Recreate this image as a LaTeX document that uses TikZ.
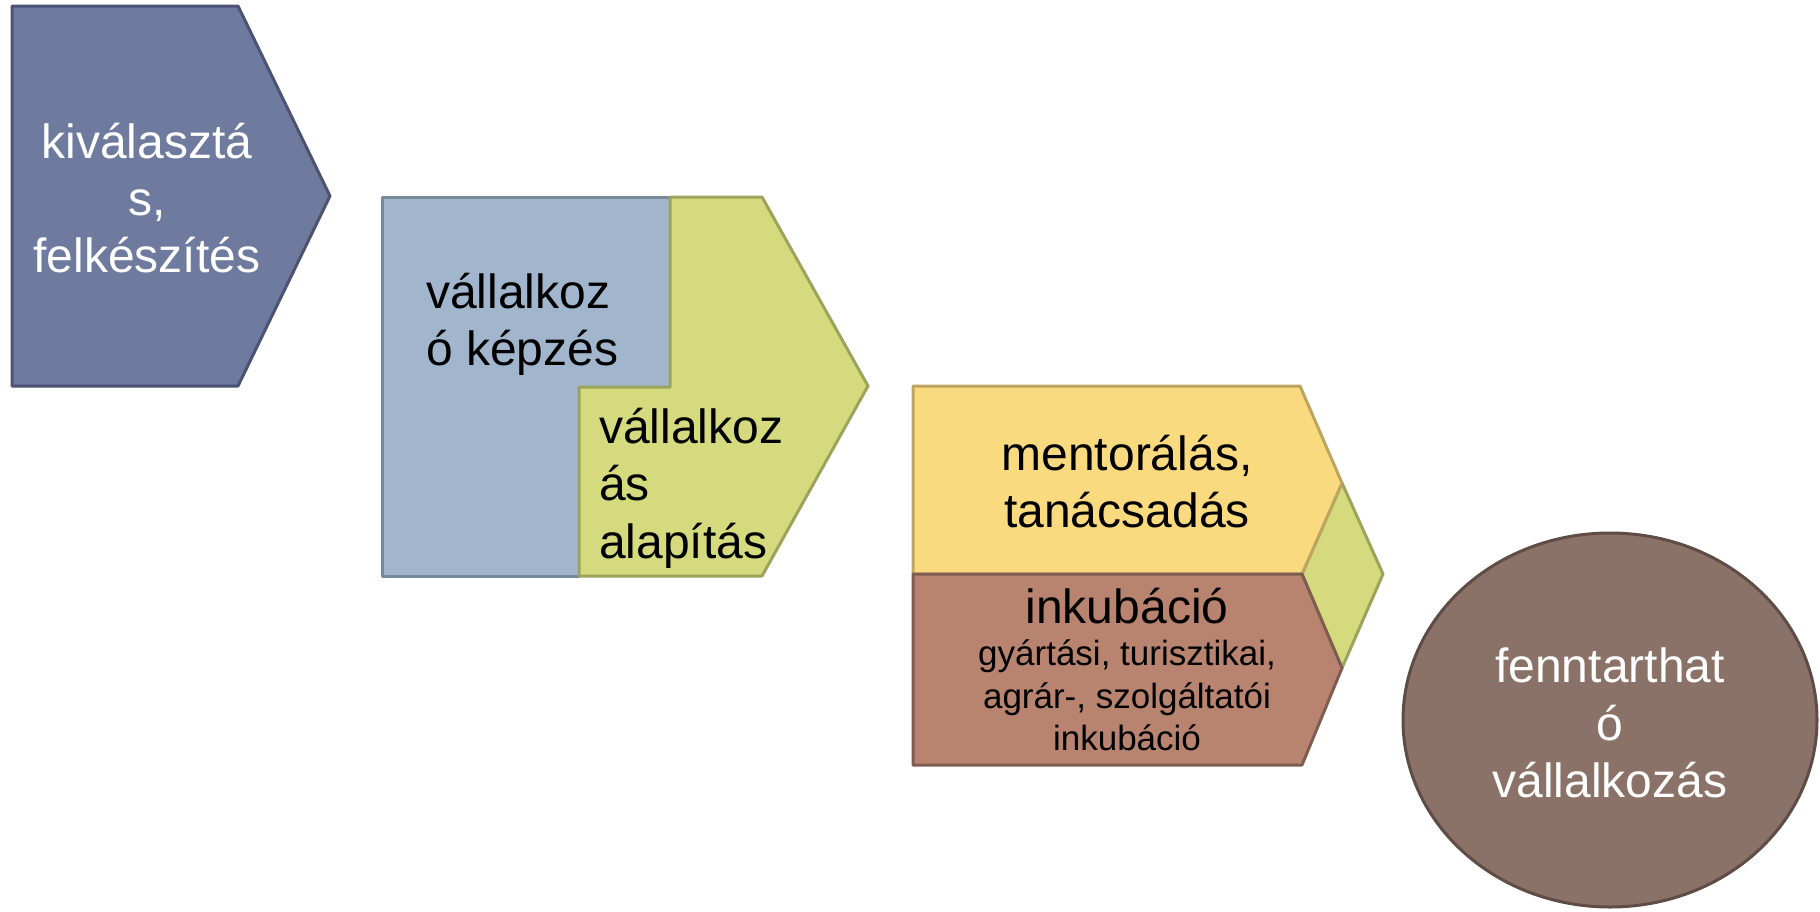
\documentclass[tikz,border=0pt]{standalone}
\usepackage{fontspec}
\setmainfont{Liberation Sans}
\definecolor{c1fill}{HTML}{6F7A9F}
\definecolor{c1line}{HTML}{4B5273}
\definecolor{c2fill}{HTML}{A1B6CD}
\definecolor{c2line}{HTML}{77899C}
\definecolor{c3fill}{HTML}{D4DA7D}
\definecolor{c3line}{HTML}{9CA35A}
\definecolor{c4fill}{HTML}{FADA7E}
\definecolor{c4line}{HTML}{BDA460}
\definecolor{c5fill}{HTML}{B8836F}
\definecolor{c5line}{HTML}{7F5C50}
\definecolor{c6fill}{HTML}{8B7268}
\definecolor{c6line}{HTML}{5E4C45}
\tikzset{
  shp/.style={line width=3pt, line join=round},
  big/.style={font=\fontsize{48}{57}\selectfont, inner sep=0pt, anchor=base},
  small/.style={font=\fontsize{35}{42}\selectfont, inner sep=0pt, anchor=base},
}
\begin{document}
\begin{tikzpicture}[x=1pt,y=-1pt]
\useasboundingbox (0,0) rectangle (1820,911);
% shape 1
\draw[shp, fill=c1fill, draw=c1line] (12,6) -- (238,6) -- (330,196) -- (238,386) -- (12,386) -- cycle;
\node[big, text=white] (t1a) at (147,158) {kiválasztá};
\node[big, text=white] (t1b) at (147,215) {s,};
\node[big, text=white] (t1c) at (147,272) {felkészítés};
% shape 2
\draw[shp, fill=c2fill, draw=c2line] (382,197) -- (670,197) -- (670,387) -- (579,387) -- (579,576) -- (382,576) -- cycle;
\draw[shp, fill=c3fill, draw=c3line] (670,197) -- (762,197) -- (868,386) -- (762,576) -- (579,576) -- (579,387) -- (670,387) -- cycle;
\node[big, anchor=base west] (t2a) at (426,308) {vállalkoz};
\node[big, anchor=base west] (t2b) at (426,365) {ó képzés};
\node[big, anchor=base west] (t3a) at (599,443) {vállalkoz};
\node[big, anchor=base west] (t3b) at (599,500) {ás};
\node[big, anchor=base west] (t3c) at (599,558) {alapítás};
% shape 3
\draw[shp, fill=c3fill, draw=c3line] (1302,574) -- (1342,483) -- (1383,574) -- (1342,668) -- cycle;
\draw[shp, fill=c4fill, draw=c4line] (913,386) -- (1300,386) -- (1342,483) -- (1302,574) -- (913,574) -- cycle;
\draw[shp, fill=c5fill, draw=c5line] (913,574) -- (1302,574) -- (1342,668) -- (1302,765) -- (913,765) -- cycle;
\node[big] (t4a) at (1127,470) {mentorálás,};
\node[big] (t4b) at (1127,527) {tanácsadás};
\node[big] (t5a) at (1127,623) {inkubáció};
\node[small] (t5b) at (1127,665) {gyártási, turisztikai,};
\node[small] (t5c) at (1127,708) {agrár-, szolgáltatói};
\node[small] (t5d) at (1127,750) {inkubáció};
% ellipse
\draw[shp, fill=c6fill, draw=c6line] (1610,720) ellipse [x radius=207, y radius=187];
\node[big, text=white] (t6a) at (1610,682) {fenntarthat};
\node[big, text=white] (t6b) at (1610,740) {ó};
\node[big, text=white] (t6c) at (1610,797) {vállalkozás};
\end{tikzpicture}
\end{document}
